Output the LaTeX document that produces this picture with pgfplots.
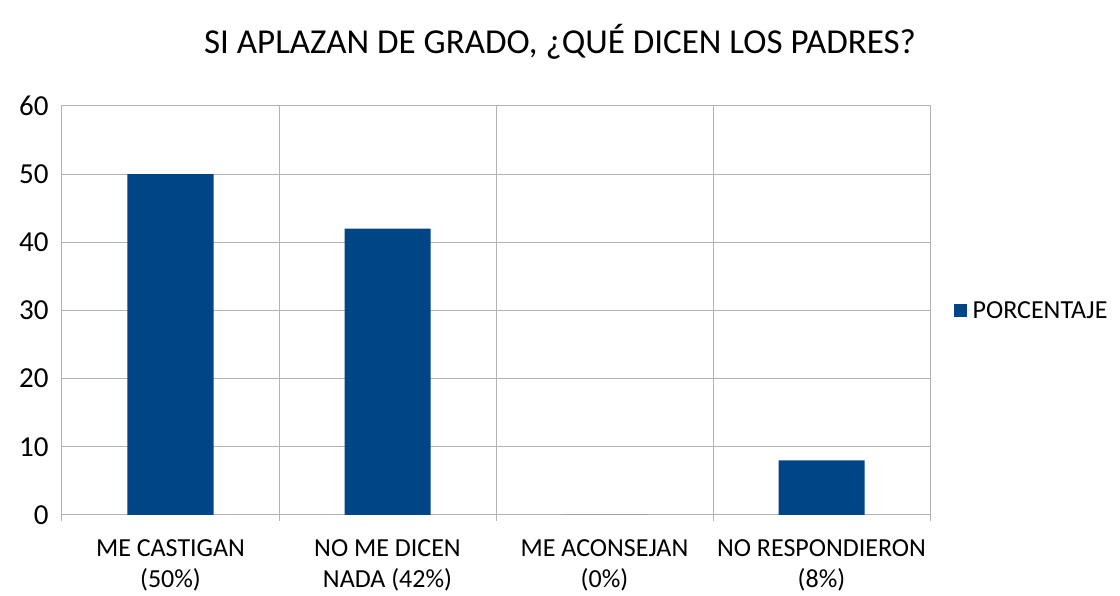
\documentclass[border=0pt]{standalone}
\usepackage{pgfplots}
\pgfplotsset{compat=1.18}
\usepackage{fontspec}
\setmainfont{Carlito}
\definecolor{barblue}{HTML}{004586}
\definecolor{gridgray}{HTML}{B3B3B3}
\begin{document}
\begin{tikzpicture}[x=1pt,y=1pt]
\useasboundingbox (-62,-81) rectangle (1058,515);
\begin{axis}[
  at={(0,0)}, anchor=south west,
  scale only axis, width=868pt, height=409pt,
  xmin=-0.5, xmax=3.5, ymin=0, ymax=60,
  ytick={0,10,...,60},
  xtick={0,1,2,3},
  tick pos=left,
  xticklabels={{ME CASTIGAN\\(50\%)},{NO ME DICEN\\NADA (42\%)},{ME ACONSEJAN\\(0\%)},{NO RESPONDIERON\\(8\%)}},
  xticklabel style={align=center, font=\fontsize{26}{31}\selectfont, yshift=-17pt},
  yticklabel style={font=\fontsize{29}{32}\selectfont, xshift=-10pt},
  /pgf/number format/assume math mode=true,
  major x tick style={draw=none},
  minor xtick={-0.5,0.5,1.5,2.5,3.5},
  minor x tick style={draw=gridgray, line width=1pt},
  minor tick length=6pt,
  xminorgrids=true, ymajorgrids=true,
  grid style={draw=gridgray, line width=1pt},
  major y tick style={draw=none},
  axis line style={draw=gridgray, line width=1pt},
  ybar, bar width=86pt,
  legend style={at={(1.027,0.5)}, anchor=west, draw=none, fill=none, inner sep=0pt, font=\fontsize{26}{30}\selectfont, legend cell align=left},
  legend image code/.code={\fill[barblue] (0pt,-6.5pt) rectangle (13pt,6.5pt); \path (0pt,0pt) -- (17pt,0pt);},
]
\addplot[fill=barblue, draw=none] coordinates {(0,50) (1,42) (2,0) (3,8)};
\addlegendentry{PORCENTAJE}
\end{axis}
\node[font=\fontsize{35}{40}\selectfont] at (498,473) {SI APLAZAN DE GRADO, ¿QUÉ DICEN LOS PADRES?};
\end{tikzpicture}
\end{document}
